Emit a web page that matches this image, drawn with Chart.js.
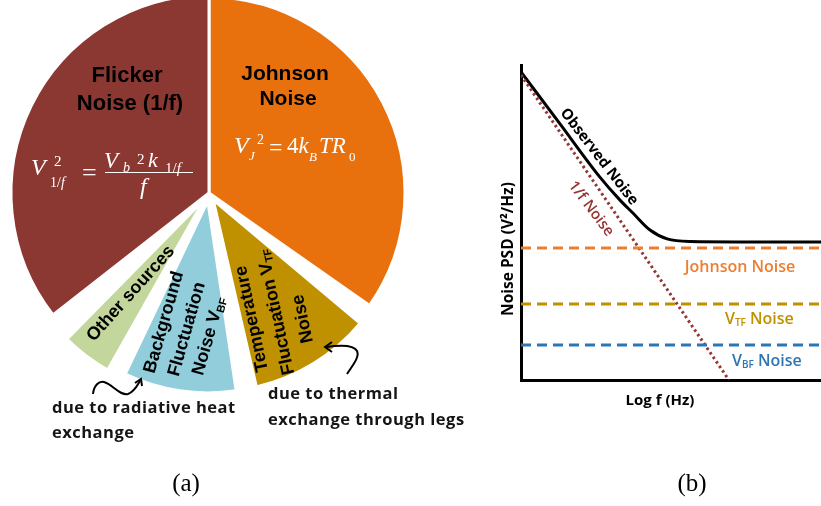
<!DOCTYPE html>
<html>
<head>
<meta charset="utf-8">
<script src="https://cdn.jsdelivr.net/npm/chart.js@4.4.1/dist/chart.umd.min.js"></script>
<style>
  html, body { margin: 0; padding: 0; background: #fff; }
  #fig { position: relative; width: 821px; height: 506px; overflow: hidden; background: #fff; }
  canvas { position: absolute; }
  .t { position: absolute; white-space: nowrap; line-height: 1; }
  .c { transform: translate(-50%, -50%); }
  .m { font-family: "Liberation Serif", serif; color: #fff; }
  .sl { font-family: "Liberation Sans", Arial, sans-serif; font-weight: bold; font-size: 18px; color: #000; }
  .cal { font-family: "Open Sans", sans-serif; font-weight: bold; }
  sub { font-size: 0.62em; vertical-align: -0.25em; }
</style>
</head>
<body>
<div id="fig">
  <canvas id="pie" width="418" height="426" style="left:0;top:-20px"></canvas>
  <canvas id="psd" width="341" height="345" style="left:480px;top:40px"></canvas>
  <svg width="821" height="506" style="position:absolute;left:0;top:0" fill="none" stroke="#000" stroke-width="2">
    <path d="M93,394 C94,385 99,381 104,382 C112,384 120,396 128,394 C134,392 137,386 140,381"/>
    <path d="M135,383 L141,379 L142,386"/>
    <path d="M347,374 C352,366 360,357 357,351 C354,345 340,345 326,347"/>
    <path d="M332,342 L325,347 L332,352"/>
  </svg>
</div>
<script>
// ---- (a) noise sources, slice angles in degrees
const sources = ['Johnson Noise', 'Temperature Fluctuation Noise V_TF', 'Background Fluctuation Noise V_BF', 'Other sources', 'Flicker Noise (1/f)'];
const sourceAngle = [125, 37, 34, 15, 128];
const gapAfter = [5, 4.5, 4, 7.5, 0];
const sourceColor = ['#E8710E', '#BF9000', '#92CDDC', '#C3D69B', '#8C3832'];

// ---- (b) noise PSD sketch (log f, log PSD in arbitrary units)
const logFreq = [0, 1.3, 2.63, 3.3, 3.73, 4.3, 4.87, 5.63, 10];
const observedPsd = [9.78, 8.13, 6.44, 5.71, 5.30, 4.76, 4.48, 4.40, 4.38];
const flickerFreq = [0, 6.93];
const flickerPsd = [9.68, 0];
const johnsonLevel = 4.19;
const tfLevel = 2.41;
const bfLevel = 1.11;

// pie, with transparent gaps between slices
const pieValues = [], pieColors = [], pieLabels = [], pieSource = [];
sources.forEach((s, i) => {
  pieValues.push(sourceAngle[i]); pieColors.push(sourceColor[i]); pieLabels.push(s); pieSource.push(i);
  if (gapAfter[i] > 0) {
    pieValues.push(gapAfter[i]); pieColors.push('rgba(0,0,0,0)'); pieLabels.push(''); pieSource.push(-1);
  }
});

const sliceRadius = [196, 192, 192, 196, 198];
const sliceExplode = [0, 8, 8, 8, 0];

const explode = {
  id: 'explode',
  afterDatasetsUpdate(chart) {
    chart.getDatasetMeta(0).data.forEach((arc, i) => {
      const k = pieSource[i];
      if (k < 0) return;
      const mid = (arc.startAngle + arc.endAngle) / 2;
      arc.x += Math.cos(mid) * sliceExplode[k];
      arc.y += Math.sin(mid) * sliceExplode[k];
      arc.outerRadius = sliceRadius[k];
    });
  }
};

new Chart(document.getElementById('pie').getContext('2d'), {
  type: 'pie',
  data: {
    labels: pieLabels,
    datasets: [{
      data: pieValues,
      backgroundColor: pieColors,
      borderColor: '#fff',
      borderWidth: pieSource.map(k => k < 0 ? 0 : 3)
    }]
  },
  options: {
    responsive: false,
    animation: false,
    events: [],
    radius: 197,
    plugins: { legend: { display: false }, tooltip: { enabled: false } }
  },
  plugins: [explode]
});

const xy = (xs, ys) => xs.map((x, i) => ({ x: x, y: ys[i] }));
const flat = v => [{ x: 0, y: v }, { x: 10, y: v }];

new Chart(document.getElementById('psd').getContext('2d'), {
  type: 'line',
  data: {
    datasets: [
      { label: 'Johnson Noise', data: flat(johnsonLevel), borderColor: '#ED7D31', borderWidth: 3, borderDash: [10, 6] },
      { label: 'V_TF Noise', data: flat(tfLevel), borderColor: '#BF9000', borderWidth: 3, borderDash: [10, 6] },
      { label: 'V_BF Noise', data: flat(bfLevel), borderColor: '#2E75B6', borderWidth: 3, borderDash: [10, 6] },
      { label: '1/f Noise', data: xy(flickerFreq, flickerPsd), borderColor: '#943634', borderWidth: 3, borderDash: [2.5, 3] },
      { label: 'Observed Noise', data: xy(logFreq, observedPsd), borderColor: '#000', borderWidth: 3, cubicInterpolationMode: 'monotone' }
    ]
  },
  options: {
    responsive: false,
    animation: false,
    events: [],
    elements: { point: { radius: 0 } },
    layout: { padding: { left: 41, top: 25, right: 0, bottom: 5 } },
    plugins: { legend: { display: false }, tooltip: { enabled: false } },
    scales: {
      x: {
        type: 'linear', min: 0, max: 10,
        grid: { display: false, drawTicks: false }, ticks: { display: false },
        border: { color: '#000', width: 3 }
      },
      y: {
        type: 'linear', min: 0, max: 10,
        grid: { display: false, drawTicks: false }, ticks: { display: false },
        border: { color: '#000', width: 3 }
      }
    }
  }
});

// ---- text
const fig = document.getElementById('fig');
function put(html, cls, css) {
  const d = document.createElement('div');
  d.className = 't ' + cls;
  d.innerHTML = html;
  d.style.cssText = css;
  fig.appendChild(d);
  return d;
}
// pie titles
put('Flicker', 'sl c', 'left:127px;top:75px;font-size:22px');
put('Noise (1/f)', 'sl c', 'left:130px;top:103px;font-size:22px');
put('Johnson', 'sl c', 'left:285px;top:72px;font-size:21px');
put('Noise', 'sl c', 'left:288px;top:97px;font-size:21px');

// formulas, placed by baseline
function mth(txt, x, base, size, italic) {
  put(txt, 'm', 'left:' + x + 'px;top:' + (base - 0.8375 * size) + 'px;font-size:' + size + 'px;font-style:' + (italic ? 'italic' : 'normal'));
}
mth('V', 31, 175, 24, true);
mth('2', 54, 167, 15, false);
mth('1/<i>f</i>', 50, 188, 14, false);
mth('=', 82, 182, 26, false);
mth('V', 104, 168, 23, true);
mth('b', 123, 173, 14, true);
mth('2', 137, 165, 15, false);
mth('k', 148, 167, 22, true);
mth('1/<i>f</i>', 165, 174, 15, false);
put('', 't', 'left:105px;top:171.5px;width:88px;height:1.5px;background:#fff');
mth('f', 140, 194, 24, true);

mth('V', 234, 153, 24, true);
mth('J', 249, 160, 13, true);
mth('2', 257, 145, 14, false);
mth('=', 269, 155, 24, false);
mth('4<i>k</i>', 287, 153, 23, false);
mth('B', 309, 161, 13, true);
mth('TR', 319, 153, 23, true);
mth('0', 349, 161, 13, false);

// small slice labels
put('Other sources', 'sl c', 'left:130px;top:293px;transform:translate(-50%,-50%) rotate(-48deg)');
put('Background', 'sl c', 'left:163px;top:322px;transform:translate(-50%,-50%) rotate(-74deg)');
put('Fluctuation', 'sl c', 'left:186px;top:329px;transform:translate(-50%,-50%) rotate(-74deg)');
put('Noise V<sub>BF</sub>', 'sl c', 'left:209px;top:336px;transform:translate(-50%,-50%) rotate(-74deg)');
put('Temperature', 'sl c', 'left:251px;top:319px;transform:translate(-50%,-50%) rotate(-102deg)');
put('Fluctuation V<sub>TF</sub>', 'sl c', 'left:276px;top:312px;transform:translate(-50%,-50%) rotate(-102deg)');
put('Noise', 'sl c', 'left:302px;top:319px;transform:translate(-50%,-50%) rotate(-102deg)');

// annotations
const ann = 'font-size:16.5px;letter-spacing:0.5px;color:#151515;';
put('due to radiative heat', 'cal', ann + 'left:52px;top:399px');
put('exchange', 'cal', ann + 'left:52px;top:424px');
put('due to thermal', 'cal', ann + 'left:268px;top:385px');
put('exchange through legs', 'cal', ann + 'left:268px;top:411px');

// psd axis titles and labels
put('Noise PSD (V\u00B2/Hz)', 'cal c', 'left:508px;top:249px;font-size:15.5px;color:#000;transform:translate(-50%,-50%) rotate(-90deg)');
put('Log f (Hz)', 'cal c', 'left:660px;top:399px;font-size:15px;color:#000');
put('Observed Noise', 'cal c', 'left:600px;top:156px;font-size:15px;color:#000;transform:translate(-50%,-50%) rotate(52.4deg)');
put('1/f Noise', 'cal c', 'left:592px;top:208px;font-size:15px;font-weight:600;color:#943634;transform:translate(-50%,-50%) rotate(53deg)');
put('Johnson Noise', 'cal c', 'left:740px;top:266px;font-size:16px;font-weight:600;color:#ED7D31');
put('V<sub>TF</sub> Noise', 'cal', 'left:725px;top:310px;font-size:16px;font-weight:600;color:#BF9000');
put('V<sub>BF</sub> Noise', 'cal', 'left:732px;top:352px;font-size:16px;font-weight:600;color:#2E75B6');

// captions
put('(a)', 'm c', 'left:186px;top:482px;font-size:25px;color:#000');
put('(b)', 'm c', 'left:692px;top:482px;font-size:25px;color:#000');
</script>
</body>
</html>
